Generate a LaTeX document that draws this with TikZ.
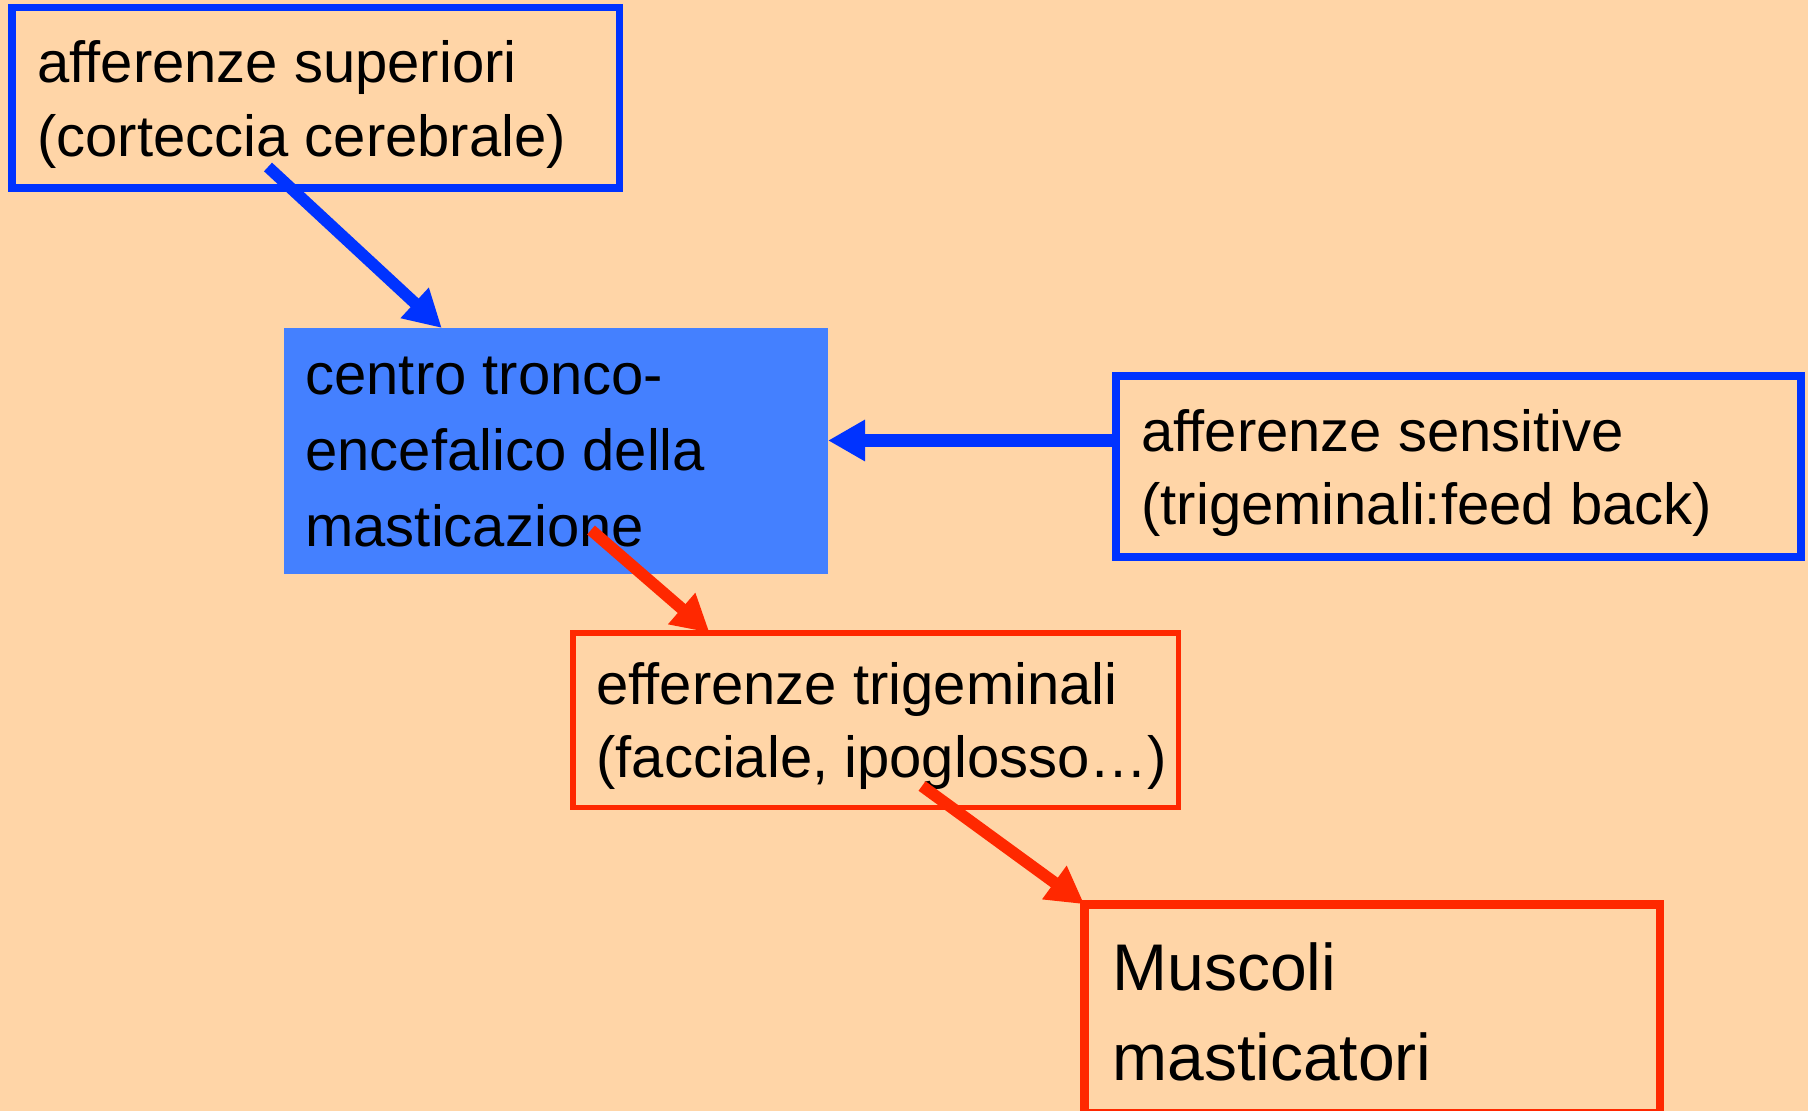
\documentclass[tikz,border=0pt]{standalone}
\usepackage{fontspec}
\setmainfont{Liberation Sans}
\usetikzlibrary{arrows.meta,calc}
\definecolor{bgpeach}{RGB}{255,213,167}
\definecolor{bblue}{RGB}{0,51,255}
\definecolor{cblue}{RGB}{68,128,255}
\definecolor{rred}{RGB}{255,40,0}
\tikzset{
  box/.style={rectangle, inner sep=0pt, outer sep=0pt},
  bluebox/.style={box, draw=bblue},
  redbox/.style={box, draw=rred},
  txt/.style={inner sep=0pt, anchor=base west, align=left, text=black,
    font=\fontsize{29}{37}\selectfont},
  bigtxt/.style={txt, font=\fontsize{33}{45}\selectfont},
  conn/.style={line width=5.9pt, -{Triangle[length=18.5pt,width=19.5pt]}},
}
\begin{document}
\begin{tikzpicture}[x=0.5pt,y=-0.5pt]
\useasboundingbox (0,0) rectangle (1808,1111);
\fill[bgpeach] (0,0) rectangle (1808,1111);
\clip (0,0) rectangle (1808,1111);
% boxes
\node[bluebox, line width=3.75pt, minimum width=303.75pt, minimum height=90.25pt] (sup) at (315.5,98) {};
\node[box, fill=cblue, minimum width=272pt, minimum height=123pt] (ctr) at (556,451) {};
\node[bluebox, line width=4pt, minimum width=342.5pt, minimum height=90.5pt] (sens) at (1458.5,466.5) {};
\node[redbox, line width=2.75pt, minimum width=302.75pt, minimum height=87.25pt] (eff) at (875.5,720) {};
\node[redbox, line width=4.25pt, minimum width=287.75pt, minimum height=104.5pt] (mus) at (1372,1008.75) {};
% texts (anchored at the baseline of their last line)
\node[txt] (supt) at (37,157) {afferenze superiori\\(corteccia cerebrale)};
\node[txt, font=\fontsize{29}{38}\selectfont] (ctrt) at (305,547) {centro tronco-\\encefalico della\\masticazione};
\node[txt, font=\fontsize{29}{36.5}\selectfont] (senst) at (1141,525) {afferenze sensitive\\(trigeminali:feed back)};
\node[txt, font=\fontsize{29}{36.5}\selectfont] (efft) at (596,777) {efferenze trigeminali\\(facciale, ipoglosso…)};
\node[bigtxt] (must) at (1112,1080) {Muscoli\\masticatori};
% connector start points
\coordinate (a1s) at (268,167);
\coordinate (a3s) at (591,530);
\coordinate (a4s) at (922,786);
% connectors
\draw[conn, bblue] (a1s) -- ($(ctr.north west)!0.29!(ctr.north east)$);
\draw[conn, bblue, line width=6.3pt] ($(sens.west)+(0,-26)$) -- (ctr.east |- {$(sens.west)+(0,-26)$});
\draw[conn, rred] (a3s) -- ($(eff.north west)!0.226!(eff.north east)$);
\draw[conn, rred] (a4s) -- (mus.north west);
\end{tikzpicture}
\end{document}
